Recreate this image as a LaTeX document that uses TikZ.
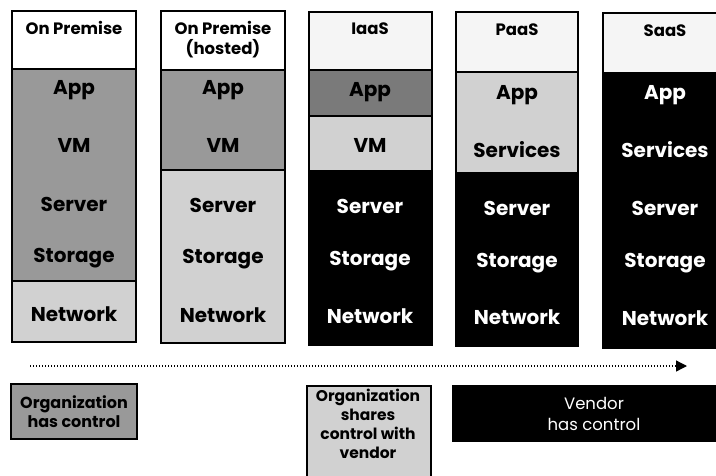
\documentclass[tikz,border=0pt]{standalone}
\usepackage{fontspec}
\setmainfont{Poppins}
\usetikzlibrary{arrows.meta}
\definecolor{ctrlmid}{gray}{0.60}
\definecolor{ctrldark}{gray}{0.48}
\definecolor{ctrllight}{gray}{0.82}
\definecolor{headpale}{gray}{0.96}

\begin{document}
\begin{tikzpicture}[
    x=1pt, y=-1pt,
    frame/.style={draw=black, line width=2.4pt},
    head/.style={font=\bfseries\fontsize{16.5}{20.5}\selectfont, align=center, anchor=north, inner sep=0pt},
    lay/.style={font=\bfseries\fontsize{20}{22}\selectfont, inner sep=0pt},
    ctrl/.style={draw=black, line width=2pt, anchor=north west, align=center, inner sep=0pt,
      font=\bfseries\fontsize{16}{19}\selectfont}
  ]
  \useasboundingbox (0,0) rectangle (716,475);
  \clip (0,0) rectangle (716,475);

  % on premise
  \fill[ctrlmid] (12,69) rectangle (136,281);
  \fill[ctrllight] (12,281) rectangle (136,342);
  \draw[frame] (12,11) rectangle (136,342);
  \draw[frame] (12,69) -- (136,69);
  \draw[frame] (12,281) -- (136,281);
  \node[head] (h1) at (74,21) {On Premise};
  \node[lay] (app1) at (74,90) {App};
  \node[lay] (vm1) at (74,145) {VM};
  \node[lay] (srv1) at (74,204) {Server};
  \node[lay] (sto1) at (74,258) {Storage};
  \node[lay] (net1) at (74,314) {Network};

  % on premise, hosted
  \fill[ctrlmid] (161,70) rectangle (285,170);
  \fill[ctrllight] (161,170) rectangle (285,343);
  \draw[frame] (161,11) rectangle (285,343);
  \draw[frame] (161,70) -- (285,70);
  \draw[frame] (161,170) -- (285,170);
  \node[head] (h2) at (223,21) {On Premise\\(hosted)};
  \node[lay] (app2) at (223,90) {App};
  \node[lay] (vm2) at (223,145) {VM};
  \node[lay] (srv2) at (223,205) {Server};
  \node[lay] (sto2) at (223,259) {Storage};
  \node[lay] (net2) at (223,315) {Network};

  % iaas
  \fill[headpale] (309,12) rectangle (432,70);
  \fill[ctrldark] (309,70) rectangle (432,116);
  \fill[ctrllight] (309,116) rectangle (432,170);
  \fill[black] (309,170) rectangle (432,345);
  \draw[frame] (309,12) rectangle (432,345);
  \draw[frame] (309,70) -- (432,70);
  \draw[frame] (309,116) -- (432,116);
  \node[head] (h3) at (370,23) {IaaS};
  \node[lay] (app3) at (370,92) {App};
  \node[lay] (vm3) at (370,145) {VM};
  \node[lay, text=white] (srv3) at (370,206) {Server};
  \node[lay, text=white] (sto3) at (370,261) {Storage};
  \node[lay, text=white] (net3) at (370,316) {Network};

  % paas
  \fill[headpale] (456,12) rectangle (578,72);
  \fill[ctrllight] (456,72) rectangle (578,172);
  \fill[black] (456,172) rectangle (578,346);
  \draw[frame] (456,12) rectangle (578,346);
  \draw[frame] (456,72) -- (578,72);
  \node[head] (h4) at (517,24) {PaaS};
  \node[lay] (app4) at (517,95) {App};
  \node[lay] (svc4) at (517,150) {Services};
  \node[lay, text=white] (srv4) at (517,208) {Server};
  \node[lay, text=white] (sto4) at (517,263) {Storage};
  \node[lay, text=white] (net4) at (517,317) {Network};

  % saas
  \fill[headpale] (603,13) rectangle (727,72);
  \fill[black] (603,72) rectangle (727,348);
  \draw[frame] (603,13) rectangle (727,348);
  \node[head] (h5) at (665,25) {SaaS};
  \node[lay, text=white] (app5) at (665,95) {App};
  \node[lay, text=white] (svc5) at (665,150) {Services};
  \node[lay, text=white] (srv5) at (665,208) {Server};
  \node[lay, text=white] (sto5) at (665,263) {Storage};
  \node[lay, text=white] (net5) at (665,318) {Network};

  % who controls what
  \coordinate (arrS) at (30,366);
  \coordinate (arrE) at (687,366);
  \draw[line width=1.3pt, dash pattern=on 1.3pt off 1.7pt,
    -{Triangle[length=11pt, width=11pt]}] (arrS) -- (arrE);

  \node[ctrl, fill=ctrlmid, minimum width=126pt, minimum height=55pt] (own) at (10,383)
    {Organization\\has control};
  \node[ctrl, fill=ctrllight, minimum width=124pt, minimum height=95pt] (sharebox) at (306,385) {};
  \node[font=\bfseries\fontsize{15.5}{19}\selectfont, align=center, anchor=north, inner sep=0pt]
    (share) at (368,389) {Organization\\shares\\control with\\vendor};
  \node[ctrl, fill=black, text=white, minimum width=282pt, minimum height=55pt,
    font=\fontsize{16.5}{21}\selectfont] (vendor) at (452,385) {Vendor\\has control};
\end{tikzpicture}
\end{document}
